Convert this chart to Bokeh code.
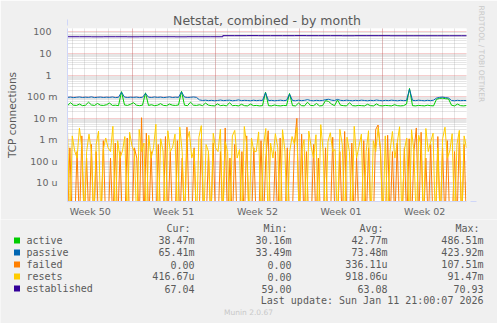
import numpy as np
from bokeh.plotting import figure
from bokeh.layouts import column
from bokeh.models import FixedTicker, Arrow, NormalHead, Title, Range1d
from bokeh.core.properties import value
from bokeh.embed import file_html
from bokeh.resources import INLINE

# ---------------- data ----------------
chart_title = "Netstat, combined - by month"
y_title = "TCP connections"
week_labels = ["Week 50", "Week 51", "Week 52", "Week 01", "Week 02"]
# time span in days, relative to Monday 00:00 of Week 51
span_start, span_end = -5.4, 28.0

# active / passive connections per second (milli units)
active_m = [38, 52, 40, 39, 45, 38, 40, 55, 41, 39, 48, 40,
            39, 42, 50, 39, 40, 38, 170, 41, 39, 44, 52, 40,
            38, 40, 150, 39, 42, 38, 40, 47, 39, 38, 45, 40,
            39, 41, 175, 40, 38, 55, 40, 39, 42, 38, 50, 40,
            38, 37, 46, 38, 40, 37, 52, 38, 39, 37, 44, 38,
            37, 45, 38, 39, 37, 38, 160, 38, 37, 41, 38, 37,
            39, 38, 140, 38, 37, 50, 38, 37, 55, 39, 38, 48,
            37, 38, 65, 60, 45, 38, 70, 40, 38, 37, 52, 38,
            37, 39, 38, 37, 44, 38, 37, 46, 38, 37, 39, 38,
            37, 42, 38, 37, 38, 45, 240, 38, 37, 39, 38, 37,
            40, 38, 37, 75, 82, 85, 80, 78, 40, 37, 45, 38, 37, 38.5]
passive_m = [92, 95, 90, 93, 96, 91, 94, 92, 97, 90, 93, 95,
             91, 94, 92, 96, 90, 93, 160, 95, 91, 94, 92, 95,
             90, 93, 140, 94, 91, 96, 92, 95, 90, 93, 97, 91,
             94, 92, 165, 95, 91, 93, 96, 92, 70, 66, 68, 65,
             67, 64, 66, 69, 65, 67, 68, 64, 66, 70, 65, 67,
             66, 64, 68, 65, 67, 66, 150, 65, 67, 64, 66, 68,
             65, 67, 130, 66, 64, 68, 65, 67, 72, 66, 64, 67,
             65, 66, 72, 75, 68, 66, 74, 67, 65, 68, 66, 64,
             67, 65, 68, 66, 64, 67, 65, 69, 66, 64, 67, 65,
             68, 66, 64, 67, 65, 66, 220, 67, 65, 68, 66, 64,
             67, 65, 68, 85, 92, 95, 90, 86, 66, 64, 67, 65, 66, 65.4]
# failed / resets per second (micro units)
failed_u = [0, 420, 0, 0, 280, 0, 1500, 0, 140, 0, 600, 0,
            280, 0, 0, 900, 0, 0, 140, 0, 700, 0, 280, 0,
            0, 1200, 0, 0, 420, 140, 0, 10500, 0, 2000, 0, 280,
            0, 0, 600, 0, 0, 1400, 0, 280, 0, 0, 900, 0,
            140, 0, 3800, 0, 0, 420, 0, 0, 1100, 0, 0, 280,
            0, 700, 0, 0, 280, 0, 3500, 0, 140, 0, 600, 0,
            0, 280, 0, 1500, 0, 0, 420, 0, 0, 900, 0, 140,
            2600, 0, 0, 280, 0, 1200, 0, 0, 420, 0, 0, 700,
            9800, 0, 1800, 0, 280, 0, 0, 600, 0, 140, 0, 0,
            420, 0, 0, 1300, 0, 0, 280, 0, 2400, 0, 0, 700,
            0, 140, 0, 0, 900, 0, 420, 0, 0, 3000, 4800, 280,
            0, 0, 1600, 0, 280, 0, 700, 0, 0, 420, 0, 1100,
            0, 280, 3500, 0, 2200, 0, 140, 0, 600, 0, 0, 1400,
            0, 420, 0, 900, 0, 0, 280, 0, 1700, 0, 600, 0]
resets_u = [2800, 0, 1500, 300, 140, 3500, 420, 0, 280, 1800, 280, 0,
            600, 2500, 0, 350, 1200, 420, 280, 4200, 0, 900, 140, 300,
            1400, 0, 2200, 500, 280, 0, 3000, 280, 700, 0, 1600, 140,
            420, 5200, 0, 1100, 300, 0, 2600, 280, 450, 1800, 0, 3800,
            280, 0, 900, 2400, 140, 350, 0, 1300, 4500, 0, 600, 280,
            0, 2000, 420, 280, 3100, 0, 800, 280, 0, 1500, 2700, 140,
            350, 0, 4100, 600, 0, 1200, 280, 280, 2300, 0, 500, 3300,
            0, 700, 140, 1900, 420, 0, 2900, 300, 0, 280, 1400, 600,
            3600, 0, 280, 1000, 0, 2500, 450, 140, 1700, 0, 5000, 300,
            0, 800, 2100, 280, 350, 0, 3000, 600, 0, 1300, 280, 0,
            4200, 140, 500, 1800, 0, 280, 2600, 0, 900, 280, 3500, 420,
            0, 1500, 0, 300, 2400, 140, 700, 4000, 0, 350, 1200, 0,
            2900, 280, 0, 1600, 500, 0, 3300, 280, 800, 2000, 0, 420,
            0, 1100, 3800, 140, 300, 1900, 0, 600, 2700, 0, 1500, 420]
# established connections, daily
established = [60, 60, 59.5, 60, 60, 59.5, 60, 60, 60, 59.5, 60, 60, 60,
               67.5, 67.5, 68, 67.5, 67.5, 67.5, 68, 67.5, 67.5, 67.5, 67, 67.5,
               67.5, 67.5, 67, 67, 67, 67, 67, 67, 67, 67]

names = ["active", "passive", "failed", "resets", "established"]
colors = ["#00CC00", "#0066B3", "#FF8000", "#FFCC00", "#330099"]
cur_vals = ["38.47m", "65.41m", "0.00", "416.67u", "67.04"]
min_vals = ["30.16m", "33.49m", "0.00", "0.00", "59.00"]
avg_vals = ["42.77m", "73.48m", "336.11u", "918.06u", "63.08"]
max_vals = ["486.51m", "423.92m", "107.51m", "91.47m", "70.93"]
col_heads = ["Cur:", "Min:", "Avg:", "Max:"]
last_update = "Last update: Sun Jan 11 21:00:07 2026"
footer = "Munin 2.0.67"
watermark = "RRDTOOL / TOBI OETIKER"

# ---------------- chart figure ----------------
W = 497
H1 = 219            # chart part height
FL, FR, FT, FB = 67, 467, 28, 203  # frame edges in px
y_lo, y_hi = 1.35e-6, 145.0
floor = 1e-7
BG = "#F0F0F0"
FONT = "DejaVu Sans"
MONO = "DejaVu Sans Mono"
TXT = "#5a5a5a"

p = figure(width=W, height=H1, x_range=(span_start, span_end), y_range=(y_lo, y_hi),
           y_axis_type="log", output_backend="svg", toolbar_location=None,
           min_border_left=FL, min_border_right=W - FR, min_border_top=FT,
           min_border_bottom=H1 - FB, title=chart_title)
p.border_fill_color = BG
p.background_fill_color = "#FFFFFF"
p.outline_line_color = None

p.title.text_font = FONT
p.title.text_font_size = "12.5px"
p.title.text_font_style = "normal"
p.title.text_color = TXT
p.title.align = "center"
p.title.offset = -(FL - (W - FR)) / 2.0
p.title.standoff = 2

p.add_layout(Title(text=watermark, text_font=FONT, text_font_size="7.5px",
                   text_font_style="normal", text_color="#C8C8C8", align="left",
                   standoff=20, offset=-23), "right")

# y axis
decades = [1e-5, 1e-4, 1e-3, 1e-2, 1e-1, 1.0, 10.0, 100.0]
dec_labels = ["10 u", "100 u", "1 m", "10 m", "100 m", "1\u00a0\u00a0", "10\u00a0\u00a0", "100\u00a0\u00a0"]
minor = [m * d for d in [1e-6] + decades for m in range(2, 10)]
yax = p.yaxis[0]
yax.ticker = FixedTicker(ticks=decades, minor_ticks=minor)
yax.major_label_overrides = {d: l for d, l in zip(decades, dec_labels)}
yax.major_label_text_font = FONT
yax.major_label_text_font_size = "9.5px"
yax.major_label_text_color = "#666666"
yax.major_tick_line_color = None
yax.minor_tick_line_color = None
yax.major_tick_out = 0
yax.major_tick_in = 0
yax.major_label_standoff = 6
yax.axis_line_color = "#CFD6F8"
yax.axis_label = y_title
yax.axis_label_text_font = FONT
yax.axis_label_text_font_size = "10.5px"
yax.axis_label_text_font_style = "normal"
yax.axis_label_text_color = TXT
yax.axis_label_standoff = 6

# x axis: week labels at mid-week, grid at week bounds / days
week_bounds = [7.0 * k for k in range(0, 5)]
week_mids = [b - 3.5 for b in week_bounds]
days = [float(d) for d in range(-5, 29)]
xax = p.xaxis[0]
xax.ticker = FixedTicker(ticks=week_mids)
xax.major_label_overrides = {m: l for m, l in zip(week_mids, week_labels)}
xax.major_label_text_font = FONT
xax.major_label_text_font_size = "9.5px"
xax.major_label_text_color = "#666666"
xax.major_tick_line_color = None
xax.minor_tick_line_color = None
xax.major_tick_out = 0
xax.major_tick_in = 0
xax.major_label_standoff = 4
xax.axis_line_color = "#CFD6F8"

p.xgrid.ticker = FixedTicker(ticks=week_bounds, minor_ticks=days)
for g in (p.xgrid, p.ygrid):
    g.grid_line_color = "#DE4F4F"
    g.grid_line_alpha = 0.55
    g.grid_line_dash = "1 1"
    g.minor_grid_line_color = "#8F8F8F"
    g.minor_grid_line_alpha = 0.45
    g.minor_grid_line_dash = "1 1"

# series
t_a = np.linspace(span_start, span_end, len(active_m))
p.line(t_a, np.array(active_m) * 1e-3, line_color=colors[0], line_width=1)
t_p = np.linspace(span_start, span_end, len(passive_m))
p.line(t_p, np.array(passive_m) * 1e-3, line_color=colors[1], line_width=1)
fv = np.array(failed_u, dtype=float) * 1e-6
t_f = np.linspace(span_start, span_end, len(failed_u))
p.line(t_f, np.where(fv > 0, fv, floor), line_color=colors[2], line_width=1)
rv = np.array(resets_u, dtype=float) * 1e-6
t_r = np.linspace(span_start, span_end, len(resets_u))
p.line(t_r, np.where(rv > 0, rv, floor), line_color=colors[3], line_width=1)
t_e = span_start + np.arange(len(established))
p.step(t_e, established, mode="after", line_color=colors[4], line_width=1)

# axis arrows
arrow_col = "#CFD6F8"
p.add_layout(Arrow(x_start=0, y_start=0, x_end=0, y_end=FB - 21, start_units="screen",
                   end_units="screen", line_color=arrow_col, line_width=1,
                   end=NormalHead(size=6, fill_color=arrow_col, line_color=arrow_col)))
p.add_layout(Arrow(x_start=0, y_start=0, x_end=476 - FL, y_end=0, start_units="screen",
                   end_units="screen", line_color=arrow_col, line_width=1,
                   end=NormalHead(size=6, fill_color=arrow_col, line_color=arrow_col)))

# ---------------- legend figure (units = page pixels) ----------------
H2 = 323 - H1
q = figure(width=W, height=H2, x_range=Range1d(0, W), y_range=Range1d(323, H1),
           output_backend="svg", toolbar_location=None, x_axis_location=None,
           y_axis_location=None, min_border=0, min_border_left=0, min_border_right=0,
           min_border_top=0, min_border_bottom=0)
q.border_fill_color = BG
q.background_fill_color = BG
q.outline_line_color = None
q.grid.grid_line_color = None
for fig in (p, q):
    if "frame_align" in fig.properties():
        fig.frame_align = False

val_right = [194, 291, 387, 483]
row_y = [240 + 12 * i for i in range(len(names))]

rx, ry, rt = [], [], []
for h, xr in zip(col_heads, val_right):
    rx.append(xr - 4); ry.append(228); rt.append(h)
for i in range(len(names)):
    for v, xr in zip((cur_vals[i], min_vals[i], avg_vals[i], max_vals[i]), val_right):
        rx.append(xr); ry.append(row_y[i]); rt.append(v)
rx.append(483); ry.append(300); rt.append(last_update)

mono = dict(text_font=value(MONO), text_font_size=value("10px"), text_color=TXT,
            text_baseline="middle")
q.text(x=rx, y=ry, text=rt, text_align="right", **mono)
q.text(x=[26] * len(names), y=row_y, text=names, text_align="left", **mono)
q.rect(x=[16.5] * len(names), y=row_y, width=6, height=6, fill_color=colors,
       line_color=None)
q.text(x=[248], y=[312], text=[footer], text_align="center", text_baseline="middle",
       text_font=value(FONT), text_font_size=value("7.5px"), text_color="#C8C8C8")

layout = column(p, q, spacing=0)
open("out.html", "w").write(file_html(layout, INLINE))
